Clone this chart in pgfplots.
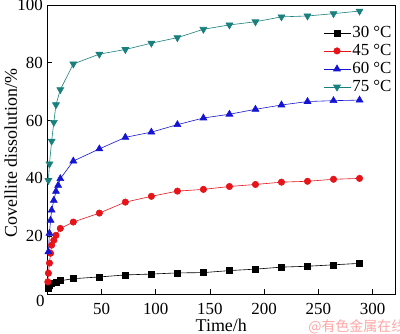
\documentclass[border=0pt]{standalone}
\usepackage{fontspec}
\setmainfont{Liberation Serif}
\newfontfamily\cjk{Noto Sans CJK SC}
\usepackage{pgfplots}
\pgfplotsset{compat=1.18}
\definecolor{cA}{RGB}{0,0,0}
\definecolor{cB}{RGB}{230,20,25}
\definecolor{cC}{RGB}{20,20,210}
\definecolor{cD}{RGB}{25,128,125}
\begin{document}
\begin{tikzpicture}[x=1bp,y=1bp]
\useasboundingbox (-47.3,-40) rectangle (352.7,294);
\begin{axis}[
  at={(0,0)}, anchor=south west,
  scale only axis, width=348bp, height=289bp,
  xmin=0, xmax=321, ymin=0, ymax=100,
  xtick={0,50,100,150,200,250,300},
  xticklabels={,50,100,150,200,250,300},
  ytick={0,20,40,60,80,100},
  yticklabels={,20,40,60,80,100},
  tick align=inside, xtick pos=bottom, ytick pos=left,
  major tick length=5bp,
  /pgf/number format/assume math mode=true,
  tick label style={font=\fontsize{17}{18}\selectfont},
  xticklabel style={yshift=-6bp},
  yticklabel style={xshift=-1bp},
  label style={font=\fontsize{18}{19}\selectfont},
  xlabel={Time/h}, ylabel={Covellite dissolution/\%},
  xlabel style={at={(axis description cs:0.5,-0.11)}, anchor=center},
  ylabel style={at={(axis description cs:-0.105,0.488)}, anchor=center},
  axis line style={line width=0.8pt},
  every tick/.style={black, line width=0.7pt},
  legend style={at={(0.997,0.935)}, anchor=north east, draw=none, fill=none,
    font=\fontsize{17}{18}\selectfont, row sep=2.3bp, inner sep=1bp,
    nodes={inner sep=1.5bp}},
  legend image code/.code={\draw[mark repeat=2,mark phase=2] plot coordinates {(0bp,0bp)(13.5bp,0bp)(27bp,0bp)};},
  legend cell align=left,
  every axis plot/.append style={line width=0.6pt},
  clip=false,
]
\node[font=\fontsize{14}{15}\selectfont, text=red!35, anchor=west] at (rel axis cs:0.74,0) [yshift=-33bp] {\cjk @有色金属在线};
\addplot[color=cA, mark=square*, mark size=3bp] coordinates {
(0.5,2.0)(1,2.6)(2,3.0)(4,3.6)(8,4.2)(12,4.6)(24,5.3)(48,5.9)(72,6.6)(96,6.9)(120,7.3)(144,7.4)(168,8.1)(192,8.6)(216,9.3)(240,9.6)(264,10.1)(288,10.6)};
\addlegendentry{30 °C}
\addplot[color=cB, mark=*, mark size=3.2bp] coordinates {
(0.5,4.2)(1,7.2)(2,10.7)(3,14.1)(4,16.9)(6,18.6)(8,20.3)(12,22.7)(24,24.9)(48,28.0)(72,31.8)(96,33.8)(120,35.6)(144,36.2)(168,37.2)(192,37.9)(216,38.7)(240,39.0)(264,39.7)(288,40.0)};
\addlegendentry{45 °C}
\addplot[color=cC, mark=triangle*, mark size=4bp] coordinates {
(1,14.6)(2,21.0)(3,25.5)(4,29.0)(6,32.4)(8,35.5)(10,37.6)(12,39.9)(24,46.0)(48,50.2)(72,54.2)(96,56.0)(120,58.6)(144,60.9)(168,62.2)(192,63.9)(216,65.4)(240,66.6)(264,66.9)(288,67.1)};
\addlegendentry{60 °C}
\addplot[color=cD, mark=triangle*, mark options={rotate=180}, mark size=4bp] coordinates {
(1,39.3)(2,45.0)(4,52.9)(6,59.4)(8,65.5)(12,70.7)(24,79.6)(48,83.0)(72,84.6)(96,86.8)(120,88.7)(144,91.6)(168,93.1)(192,94.2)(216,95.9)(240,96.2)(264,97.0)(288,97.9)};
\addlegendentry{75 °C}
\end{axis}
\node[font=\fontsize{17}{18}\selectfont] at (-7,-7) {0};
\end{tikzpicture}
\end{document}
